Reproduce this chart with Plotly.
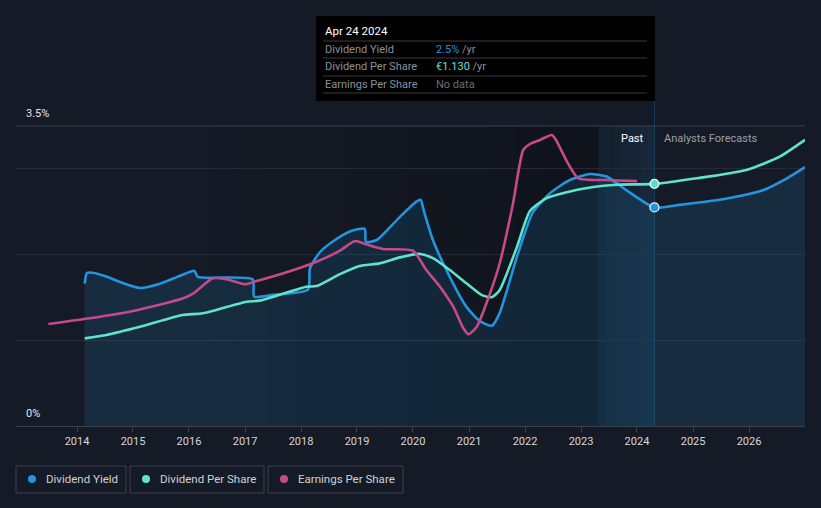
import plotly.graph_objects as go
import pandas as pd

# ---------------- data ----------------
yield_dates = ["2014-02-20", "2014-03-05", "2014-03-25", "2014-07-01", "2014-10-08", "2015-02-15",
               "2015-06-25", "2015-11-01", "2016-02-05", "2016-02-28", "2017-02-20", "2017-03-01",
               "2017-07-01", "2018-02-15", "2018-02-28", "2018-05-05", "2018-07-25", "2018-11-15",
               "2019-02-20", "2019-03-01", "2019-05-10", "2019-10-08", "2020-01-25", "2020-02-20",
               "2020-03-15", "2020-05-10", "2020-08-28", "2020-12-15", "2021-03-15", "2021-05-30",
               "2021-07-20", "2021-11-10", "2022-02-20", "2022-06-15", "2022-10-20", "2023-02-28",
               "2023-06-18", "2023-10-25", "2024-04-24", "2024-10-08", "2025-08-28", "2026-04-01",
               "2026-09-05", "2027-01-01"]
yield_pct = [1.66, 1.78, 1.79, 1.75, 1.68, 1.61,
             1.66, 1.75, 1.81, 1.74, 1.71, 1.51,
             1.53, 1.59, 1.84, 2.03, 2.15, 2.27,
             2.30, 2.15, 2.17, 2.44, 2.62, 2.64,
             2.49, 2.17, 1.74, 1.39, 1.22, 1.17,
             1.32, 1.98, 2.49, 2.72, 2.87, 2.94,
             2.91, 2.75, 2.55, 2.58, 2.66, 2.75,
             2.89, 3.02]

dps_dates = ["2014-02-20", "2014-07-12", "2015-02-15", "2015-11-20", "2016-04-01", "2017-01-10",
             "2017-04-08", "2018-02-05", "2018-04-12", "2018-09-12", "2019-01-18", "2019-05-28",
             "2019-10-08", "2020-02-18", "2020-05-10", "2020-08-28", "2020-12-15", "2021-03-25",
             "2021-05-30", "2021-07-20", "2021-11-10", "2022-02-02", "2022-05-22", "2022-12-25",
             "2023-07-28", "2024-04-24", "2025-01-25", "2025-12-15", "2026-07-20", "2027-01-01"]
dps_eur = [0.409, 0.425, 0.463, 0.518, 0.526, 0.580,
           0.585, 0.650, 0.653, 0.709, 0.747, 0.759,
           0.787, 0.803, 0.783, 0.728, 0.666, 0.611,
           0.601, 0.635, 0.837, 1.003, 1.063, 1.105,
           1.125, 1.130, 1.156, 1.195, 1.257, 1.335]

eps_dates = ["2013-06-28", "2014-03-25", "2015-01-01", "2015-11-25", "2016-01-30", "2016-06-05",
             "2016-09-01", "2017-01-01", "2017-03-18", "2017-08-18", "2018-04-12", "2018-09-12",
             "2018-12-18", "2019-03-01", "2019-06-18", "2020-01-01", "2020-03-28", "2020-06-25",
             "2020-09-20", "2020-11-25", "2020-12-28", "2021-02-20", "2021-05-18", "2021-07-20",
             "2021-10-15", "2021-12-20", "2022-02-02", "2022-04-08", "2022-06-25", "2022-07-22",
             "2022-10-08", "2022-12-15", "2023-06-18", "2024-01-01"]
eps_eur = [1.70, 1.795, 1.917, 2.128, 2.212, 2.462,
           2.445, 2.362, 2.417, 2.528, 2.738, 2.922,
           3.083, 3.028, 2.95, 2.922, 2.60, 2.322,
           1.988, 1.628, 1.528, 1.655, 2.212, 2.712,
           3.712, 4.60, 4.70, 4.767, 4.85, 4.767,
           4.378, 4.128, 4.10, 4.083]

hover_date = "2024-04-24"
hover_yield = 2.55
hover_dps = 1.130
past_start = "2023-04-24"
x_range = ["2012-11-29", "2027-01-01"]
tick_labels = ["2014", "2015", "2016", "2017", "2018", "2019", "2020",
               "2021", "2022", "2023", "2024", "2025", "2026"]
series_names = ["Dividend Yield", "Dividend Per Share", "Earnings Per Share"]
y_labels = ["3.5%", "0%"]

# ---------------- style ----------------
BG = "#151b26"
BLUE = "#2394df"
TEAL = "#5fe3cc"
PINK = "#c64a8a"
FONT = "Roboto"

W, H = 821, 508
L, R, T, B = 16, 16, 126, 82
PW, PH = W - L - R, H - T - B


def px(xp):
    return (xp - L) / PW


def py(yp):
    return (H - B - yp) / PH


fig = go.Figure()

fig.add_trace(go.Scatter(
    x=yield_dates, y=yield_pct, mode="lines", name=series_names[0],
    line=dict(color=BLUE, width=2.6, shape="spline", smoothing=0.6),
    fill="tozeroy", fillcolor="rgba(35,148,223,0.14)", yaxis="y", hoverinfo="skip"))

fig.add_trace(go.Scatter(
    x=dps_dates, y=dps_eur, mode="lines", name=series_names[1],
    line=dict(color=TEAL, width=2.6, shape="spline", smoothing=0.6),
    yaxis="y2", hoverinfo="skip"))

fig.add_trace(go.Scatter(
    x=eps_dates, y=eps_eur, mode="lines", name=series_names[2],
    line=dict(color=PINK, width=2.6, shape="spline", smoothing=0.6),
    yaxis="y3", hoverinfo="skip"))

fig.add_trace(go.Scatter(
    x=[hover_date], y=[hover_yield], mode="markers", yaxis="y",
    marker=dict(size=9, color=BLUE, line=dict(color="white", width=1.2)), hoverinfo="skip"))
fig.add_trace(go.Scatter(
    x=[hover_date], y=[hover_dps], mode="markers", yaxis="y2",
    marker=dict(size=9, color=TEAL, line=dict(color="white", width=1.2)), hoverinfo="skip"))

shapes = []
# darkening gradient over the past (before the one-year band)
g0 = pd.Timestamp("2016-06-01")
g1 = pd.Timestamp(past_start)
n = 14
for i in range(n):
    a = g0 + (g1 - g0) * i / n
    b = g0 + (g1 - g0) * (i + 1) / n
    shapes.append(dict(type="rect", xref="x", yref="paper", x0=a, x1=b, y0=0, y1=1,
                       fillcolor=f"rgba(0,0,0,{0.26 * (i + 1) / n:.3f})", line=dict(width=0), layer="below"))
# past band (gradient towards the hover date)
h1 = pd.Timestamp(hover_date)
m = 8
for i in range(m):
    a = g1 + (h1 - g1) * i / m
    b = g1 + (h1 - g1) * (i + 1) / m
    shapes.append(dict(type="rect", xref="x", yref="paper", x0=a, x1=b, y0=0, y1=1,
                       fillcolor=f"rgba(35,148,223,{0.03 + 0.08 * (i + 1) / m:.3f})", line=dict(width=0),
                       layer="below"))
# hover line
shapes.append(dict(type="line", xref="x", yref="paper", x0=hover_date, x1=hover_date, y0=0,
                   y1=py(101), line=dict(color="rgba(35,148,223,0.28)", width=1)))
# top gridline 3.5%
shapes.append(dict(type="line", xref="paper", yref="paper", x0=0, x1=1, y0=1, y1=1,
                   line=dict(color="#3b414c", width=1), layer="below"))

annotations = []
annotations.append(dict(xref="paper", yref="paper", x=px(24), y=py(114), xanchor="left", yanchor="middle",
                        text=y_labels[0], showarrow=False, font=dict(family=FONT, size=11, color="#e6e6e6")))
annotations.append(dict(xref="paper", yref="paper", x=px(24), y=py(413), xanchor="left", yanchor="middle",
                        text=y_labels[1], showarrow=False, font=dict(family=FONT, size=11, color="#e6e6e6")))
annotations.append(dict(xref="paper", yref="paper", x=px(646), y=py(138), xanchor="right", yanchor="middle",
                        text="Past", showarrow=False, font=dict(family=FONT, size=11, color="#ffffff")))
annotations.append(dict(xref="paper", yref="paper", x=px(662), y=py(138), xanchor="left", yanchor="middle",
                        text="Analysts Forecasts", showarrow=False, font=dict(family=FONT, size=11, color="#9aa0a8")))

# tooltip
shapes.append(dict(type="rect", xref="paper", yref="paper", x0=px(316), x1=px(655), y0=py(101), y1=py(16),
                   fillcolor="#000000", line=dict(width=0)))
for ly in [41, 58, 76, 93]:
    shapes.append(dict(type="line", xref="paper", yref="paper", x0=px(323), x1=px(647), y0=py(ly), y1=py(ly),
                       line=dict(color="#3a3a3a", width=1)))
annotations.append(dict(xref="paper", yref="paper", x=px(323), y=py(31), xanchor="left", yanchor="middle",
                        text="Apr 24 2024", showarrow=False, font=dict(family=FONT, size=11.5, color="#ffffff")))
rows = [(series_names[0], f"<span style='color:{BLUE}'>2.5%</span> /yr", 49),
        (series_names[1], f"<span style='color:{TEAL}'>€1.130</span> /yr", 66),
        (series_names[2], "<span style='color:#6b6f76'>No data</span>", 84)]
for lab, val, ry in rows:
    annotations.append(dict(xref="paper", yref="paper", x=px(323), y=py(ry), xanchor="left", yanchor="middle",
                            text=lab, showarrow=False, font=dict(family=FONT, size=11, color="#8c9099")))
    annotations.append(dict(xref="paper", yref="paper", x=px(434), y=py(ry), xanchor="left", yanchor="middle",
                            text=val, showarrow=False, font=dict(family=FONT, size=11, color="#8c9099")))

# legend
leg = [(16, 126, 32, BLUE), (130, 264, 146, TEAL), (268, 403, 284, PINK)]
for (x0, x1, dx, col), name in zip(leg, series_names):
    shapes.append(dict(type="rect", xref="paper", yref="paper", x0=px(x0), x1=px(x1), y0=py(493), y1=py(466),
                       line=dict(color="#3b414c", width=1), fillcolor="rgba(0,0,0,0)"))
    shapes.append(dict(type="circle", xref="paper", yref="paper", x0=px(dx - 4), x1=px(dx + 4),
                       y0=py(483), y1=py(475), fillcolor=col, line=dict(width=0)))
    annotations.append(dict(xref="paper", yref="paper", x=px(dx + 12), y=py(479.5), xanchor="left",
                            yanchor="middle", text=name, showarrow=False,
                            font=dict(family=FONT, size=11.5, color="#cfd3d8")))

tick_vals = [f"{t}-01-01" for t in tick_labels]

fig.update_layout(
    width=W, height=H,
    margin=dict(l=L, r=R, t=T, b=B),
    paper_bgcolor=BG, plot_bgcolor=BG,
    showlegend=False,
    font=dict(family=FONT, color="#d8d8d8"),
    xaxis=dict(range=x_range, type="date", tickvals=tick_vals, ticktext=tick_labels,
               showgrid=False, zeroline=False, showline=True, linecolor="#3b414c", linewidth=1,
               ticks="outside", ticklen=5, tickcolor="#3b414c",
               tickfont=dict(family=FONT, size=11, color="#d8d8d8")),
    yaxis=dict(range=[0, 3.5], tickvals=[1, 2, 3], showticklabels=False, gridcolor="#252b36",
               gridwidth=1, zeroline=False, showline=False, fixedrange=True),
    yaxis2=dict(range=[0, 1.4], overlaying="y", visible=False, showgrid=False),
    yaxis3=dict(range=[0, 5.0], overlaying="y", visible=False, showgrid=False),
    shapes=shapes,
    annotations=annotations,
)

fig.write_html("out.html", config={"displayModeBar": False},
               post_script="document.body.style.margin='0';document.body.style.background='#151b26';")
